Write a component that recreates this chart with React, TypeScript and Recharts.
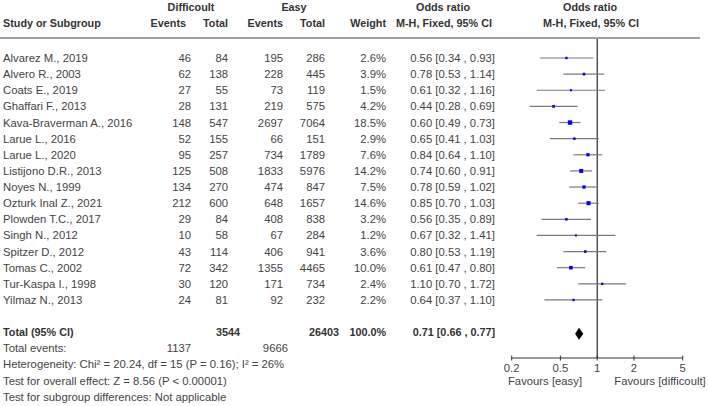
import React from 'react'
import { ScatterChart, Scatter, XAxis, YAxis, ErrorBar, ReferenceLine } from 'recharts'

const studies = [
  'Alvarez M., 2019', 'Alvero R., 2003', 'Coats E., 2019', 'Ghaffari F., 2013',
  'Kava-Braverman A., 2016', 'Larue L., 2016', 'Larue L., 2020', 'Listijono D.R., 2013',
  'Noyes N., 1999', 'Ozturk Inal Z., 2021', 'Plowden T.C., 2017', 'Singh N., 2012',
  'Spitzer D., 2012', 'Tomas C., 2002', 'Tur-Kaspa I., 1998', 'Yilmaz N., 2013',
]
const diffEvents = [46, 62, 27, 28, 148, 52, 95, 125, 134, 212, 29, 10, 43, 72, 30, 24]
const diffTotal = [84, 138, 55, 131, 547, 155, 257, 508, 270, 600, 84, 58, 114, 342, 120, 81]
const easyEvents = [195, 228, 73, 219, 2697, 66, 734, 1833, 474, 648, 408, 67, 406, 1355, 171, 92]
const easyTotal = [286, 445, 119, 575, 7064, 151, 1789, 5976, 847, 1657, 838, 284, 941, 4465, 734, 232]
const weights = [2.6, 3.9, 1.5, 4.2, 18.5, 2.9, 7.6, 14.2, 7.5, 14.6, 3.2, 1.2, 3.6, 10.0, 2.4, 2.2]
const oddsRatio = [0.56, 0.78, 0.61, 0.44, 0.60, 0.65, 0.84, 0.74, 0.78, 0.85, 0.56, 0.67, 0.80, 0.61, 1.10, 0.64]
const ciLow = [0.34, 0.53, 0.32, 0.28, 0.49, 0.41, 0.64, 0.60, 0.59, 0.70, 0.35, 0.32, 0.53, 0.47, 0.70, 0.37]
const ciHigh = [0.93, 1.14, 1.16, 0.69, 0.73, 1.03, 1.10, 0.91, 1.02, 1.03, 0.89, 1.41, 1.19, 0.80, 1.72, 1.10]

const totalDiff = 3544
const totalEasy = 26403
const totalWeight = 100.0
const totalOR = 0.71
const totalLow = 0.66
const totalHigh = 0.77
const totalDiffEvents = 1137
const totalEasyEvents = 9666

const footnotes = [
  'Heterogeneity: Chi² = 20.24, df = 15 (P = 0.16); I² = 26%',
  'Test for overall effect: Z = 8.56 (P < 0.00001)',
  'Test for subgroup differences: Not applicable',
]
const xTicks = [0.2, 0.5, 1, 2, 5]
const xDomain = [0.2, 5]

// layout
const W = 708
const H = 406
const M = { top: 38, right: 25.3, bottom: 18, left: 511.7 }
const XAXIS_H = 30
const ROW0 = 58
const ROW_H = 16.13
const PLOT_TOP = M.top
const PLOT_BOTTOM = H - M.bottom - XAXIS_H
const TOTAL_ROW = studies.length + 1
const yDomain = [(PLOT_TOP - ROW0) / ROW_H, (PLOT_BOTTOM - ROW0) / ROW_H]
const PX_PER_DECADE = (W - M.left - M.right) / (Math.log10(xDomain[1]) - Math.log10(xDomain[0]))
const rowY = (i: number) => ROW0 + i * ROW_H

const FONT = '"Liberation Sans", Arial, sans-serif'
const TEXT = '#444'
const FS = 11.3
const FS_BOLD = 10.8

const points = studies.map((name, i) => ({
  name,
  row: i,
  or: oddsRatio[i],
  err: [oddsRatio[i] - ciLow[i], ciHigh[i] - oddsRatio[i]],
  weight: weights[i],
}))
const totalPoint = [{ row: TOTAL_ROW, or: totalOR, lo: totalLow, hi: totalHigh }]

function Square(props: any) {
  const { cx, cy, payload } = props
  const s = 1.2 + Math.sqrt(payload.weight) * 0.75
  return <rect x={cx - s / 2} y={cy - s / 2} width={s} height={s} fill="#0000ff" />
}

function Diamond(props: any) {
  const { cx, cy, payload } = props
  const dx = (v: number) => (Math.log10(v) - Math.log10(payload.or)) * PX_PER_DECADE
  const h = 6
  const c = cy + 1.5
  const pts = `${cx + dx(payload.lo)},${c} ${cx},${c - h} ${cx + dx(payload.hi)},${c} ${cx},${c + h}`
  return <polygon points={pts} fill="#000" />
}

function Tick(props: any) {
  const { x, y, payload } = props
  return (
    <g>
      <line x1={x} x2={x} y1={y - 2.5} y2={y + 2.5} stroke="#333" />
      <text x={x} y={y + 10} textAnchor="middle" dominantBaseline="central" fontSize={FS} fill={TEXT} fontFamily={FONT}>
        {String(payload.value)}
      </text>
    </g>
  )
}

function T({ x, y, anchor = 'start', bold = false, children }: any) {
  return (
    <text x={x} y={y} textAnchor={anchor} dominantBaseline="central" fontSize={bold ? FS_BOLD : FS}
      fontWeight={bold ? 'bold' : 'normal'} fill={bold ? '#333' : TEXT} fontFamily={FONT}>
      {children}
    </text>
  )
}

const fmtCI = (o: number, l: number, h: number) => `${o.toFixed(2)} [${l.toFixed(2)} , ${h.toFixed(2)}]`

export default function App() {
  return (
    <div style={{ position: 'absolute', left: 0, top: 0, width: W, height: H }}>
      <ScatterChart width={W} height={H} margin={M}>
        <XAxis dataKey="or" type="number" scale="log" domain={xDomain} ticks={xTicks}
          allowDataOverflow height={XAXIS_H} tickSize={0} tickMargin={0} tickLine={false}
          axisLine={{ stroke: '#333' }} tick={<Tick />} />
        <YAxis dataKey="row" type="number" domain={yDomain} reversed hide allowDataOverflow />
        <ReferenceLine x={1} stroke="#000" strokeWidth={1} />
        <Scatter data={points} shape={<Square />} isAnimationActive={false}>
          <ErrorBar dataKey="err" direction="x" width={0} stroke="#7a7a7a" strokeWidth={1.2} isAnimationActive={false} />
        </Scatter>
        <Scatter data={totalPoint} shape={<Diamond />} isAnimationActive={false} />
      </ScatterChart>
      <svg width={W} height={H} style={{ position: 'absolute', left: 0, top: 0, pointerEvents: 'none' }}>
        <T x={191} y={7} anchor="middle" bold>Difficoult</T>
        <T x={294} y={7} anchor="middle" bold>Easy</T>
        <T x={443} y={7} anchor="middle" bold>Odds ratio</T>
        <T x={590} y={7} anchor="middle" bold>Odds ratio</T>
        <T x={3} y={23} bold>Study or Subgroup</T>
        <T x={186} y={23} anchor="end" bold>Events</T>
        <T x={228} y={23} anchor="end" bold>Total</T>
        <T x={283} y={23} anchor="end" bold>Events</T>
        <T x={325} y={23} anchor="end" bold>Total</T>
        <T x={386} y={23} anchor="end" bold>Weight</T>
        <T x={444} y={23} anchor="middle" bold>M-H, Fixed, 95% CI</T>
        <T x={591} y={23} anchor="middle" bold>M-H, Fixed, 95% CI</T>
        <line x1={0} x2={700} y1={38} y2={38} stroke="#a0a0a0" strokeWidth={2} />
        {studies.map((s, i) => (
          <g key={s}>
            <T x={3} y={rowY(i)}>{s}</T>
            <T x={191} y={rowY(i)} anchor="end">{diffEvents[i]}</T>
            <T x={228} y={rowY(i)} anchor="end">{diffTotal[i]}</T>
            <T x={283} y={rowY(i)} anchor="end">{easyEvents[i]}</T>
            <T x={325} y={rowY(i)} anchor="end">{easyTotal[i]}</T>
            <T x={386} y={rowY(i)} anchor="end">{`${weights[i].toFixed(1)}%`}</T>
            <T x={495} y={rowY(i)} anchor="end">{fmtCI(oddsRatio[i], ciLow[i], ciHigh[i])}</T>
          </g>
        ))}
        <T x={3} y={rowY(TOTAL_ROW)} bold>Total (95% CI)</T>
        <T x={240} y={rowY(TOTAL_ROW)} anchor="end" bold>{totalDiff}</T>
        <T x={339} y={rowY(TOTAL_ROW)} anchor="end" bold>{totalEasy}</T>
        <T x={386} y={rowY(TOTAL_ROW)} anchor="end" bold>{`${totalWeight.toFixed(1)}%`}</T>
        <T x={495} y={rowY(TOTAL_ROW)} anchor="end" bold>{fmtCI(totalOR, totalLow, totalHigh)}</T>
        <T x={3} y={rowY(TOTAL_ROW + 1)}>Total events:</T>
        <T x={191} y={rowY(TOTAL_ROW + 1)} anchor="end">{totalDiffEvents}</T>
        <T x={288} y={rowY(TOTAL_ROW + 1)} anchor="end">{totalEasyEvents}</T>
        {footnotes.map((f, i) => (
          <T key={f} x={3} y={rowY(TOTAL_ROW + 2 + i)}>{f}</T>
        ))}
        <T x={545} y={381} anchor="middle">Favours [easy]</T>
        <T x={660} y={381} anchor="middle">Favours [difficoult]</T>
      </svg>
    </div>
  )
}
